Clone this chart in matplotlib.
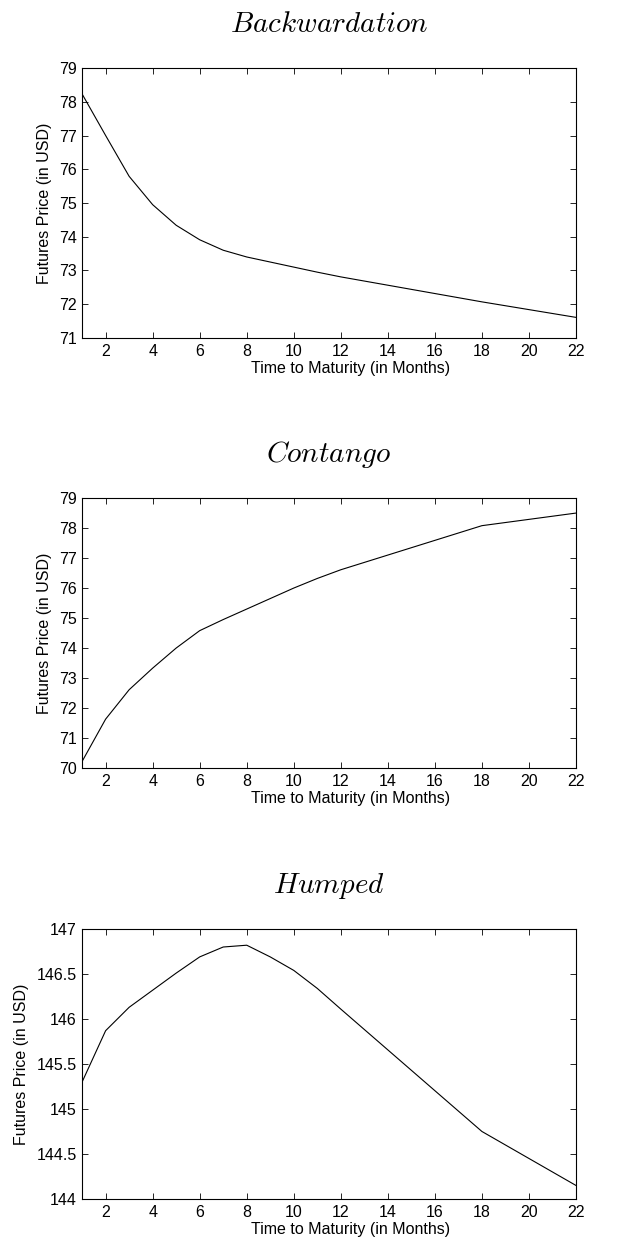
import numpy as np
import matplotlib
matplotlib.use('Agg')
import matplotlib.pyplot as plt

plt.rcParams['font.family'] = ['Liberation Sans', 'DejaVu Sans']
plt.rcParams['mathtext.fontset'] = 'cm'

# months to maturity
months = [1, 2, 3, 4, 5, 6, 7, 8, 9, 10, 11, 12, 18, 22]

backwardation = [78.23, 77.0, 75.79, 74.95, 74.34, 73.91, 73.60, 73.40,
                 73.25, 73.10, 72.95, 72.81, 72.07, 71.61]
contango = [70.22, 71.63, 72.61, 73.33, 74.0, 74.58, 74.95, 75.30,
            75.65, 76.0, 76.32, 76.61, 78.08, 78.50]
humped = [145.30, 145.87, 146.13, 146.32, 146.51, 146.69, 146.80, 146.82,
          146.69, 146.54, 146.34, 146.11, 144.75, 144.15]

titles = [r'$Backwardation$', r'$Contango$', r'$Humped$']
series = [backwardation, contango, humped]
ylims = [(71, 79), (70, 79), (144, 147)]
yticks = [np.arange(71, 80, 1), np.arange(70, 80, 1), np.arange(144, 147.1, 0.5)]
ylabels_fmt = [None, None, ['144', '144.5', '145', '145.5', '146', '146.5', '147']]
bottoms = [0.7292, 0.3846, 0.0393]

fig = plt.figure(figsize=(6.22, 12.48), dpi=100)

for i in range(3):
    ax = fig.add_axes([0.132, bottoms[i], 0.794, 0.2163])
    ax.plot(months, series[i], color='k', linewidth=0.8)
    ax.set_xlim(1, 22)
    ax.set_ylim(*ylims[i])
    ax.set_xticks(np.arange(2, 23, 2))
    ax.set_yticks(yticks[i])
    if ylabels_fmt[i] is not None:
        ax.set_yticklabels(ylabels_fmt[i])
    ax.tick_params(direction='in', top=True, right=True, length=4,
                   width=0.6, labelsize=11.5, pad=4)
    for s in ax.spines.values():
        s.set_linewidth(0.8)
    ax.set_xlabel('Time to Maturity (in Months)', fontsize=11.5, labelpad=2)
    ax.xaxis.label.set_x(0.543)
    ax.set_ylabel('Futures Price (in USD)', fontsize=11.5, labelpad=5)
    ax.set_title(titles[i], fontsize=21, pad=26)

plt.savefig('out.png', dpi=100)
plt.close()
